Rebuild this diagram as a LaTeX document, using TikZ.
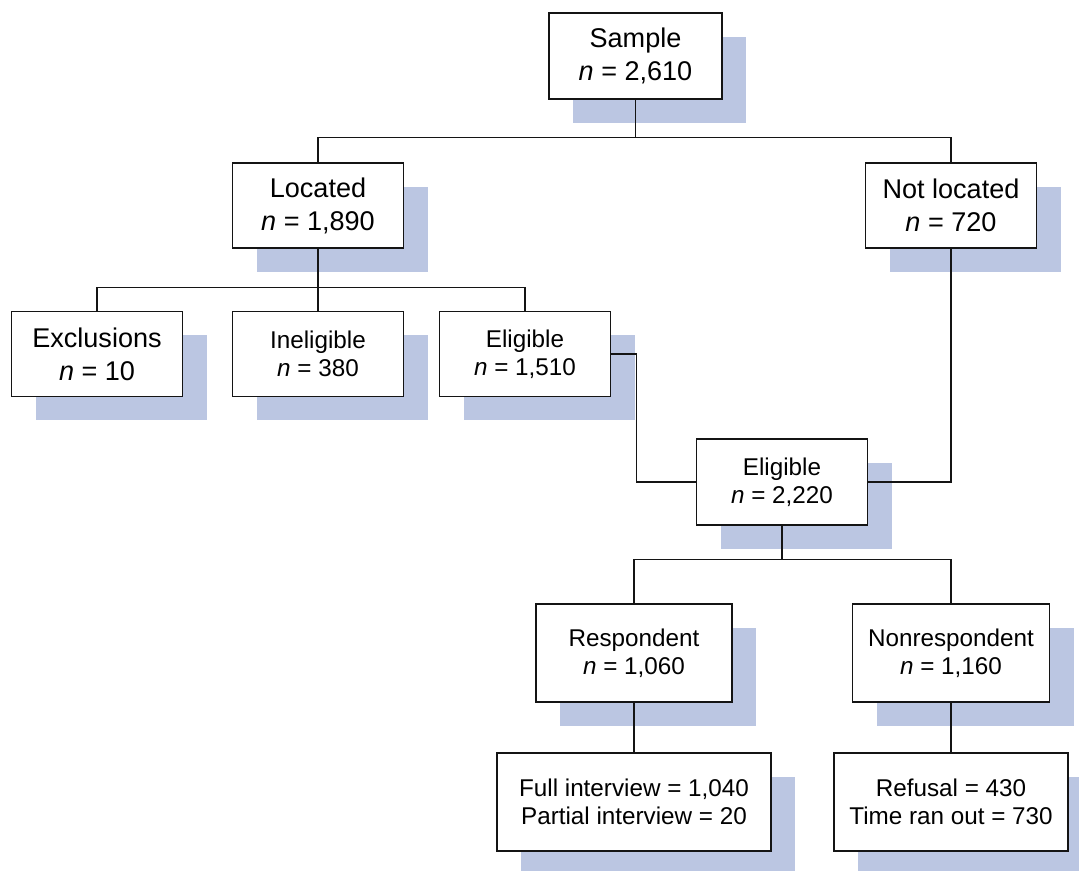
\documentclass[tikz,border=0pt]{standalone}
\usepackage{fontspec}
\setmainfont{Liberation Sans}
\usepackage{tikz}
\usetikzlibrary{shadows}
\definecolor{shadowblue}{RGB}{187, 198, 226}
\definecolor{linedark}{RGB}{20, 20, 20}
\tikzstyle{box}=[draw=linedark, fill=white, line width=0.9pt, align=center, inner sep=0pt,
    general shadow={fill=shadowblue, shadow xshift=0.48cm, shadow yshift=-0.48cm}]
\tikzstyle{bigbox}=[box, minimum width=3.42cm, minimum height=1.70cm, font=\fontsize{15.4}{18.8}\selectfont]
\tikzstyle{smallbox}=[box, minimum width=3.42cm, minimum height=1.70cm, font=\fontsize{13.8}{15.9}\selectfont]
\tikzstyle{widebox}=[smallbox, minimum height=1.96cm]
\tikzstyle{link}=[line width=0.75pt, color=linedark]

\begin{document}
\begin{tikzpicture}
    \useasboundingbox (0,0) rectangle (21.58,17.42);

    % Sample and location
    \node[bigbox, minimum width=3.46cm, minimum height=1.72cm] (sample) at (12.71, 16.30) {Sample\\\textit{n} = 2,610};
    \node[bigbox] (located) at (6.36, 13.31) {Located\\\textit{n} = 1,890};
    \node[bigbox] (notloc) at (19.02, 13.31) {Not located\\\textit{n} = 720};

    % Located split
    \node[bigbox] (excl) at (1.94, 10.34) {Exclusions\\\textit{n} = 10};
    \node[smallbox] (inelig) at (6.36, 10.34) {Ineligible\\\textit{n} = 380};
    \node[smallbox] (elig) at (10.50, 10.34) {Eligible\\\textit{n} = 1,510};

    % All eligible
    \node[smallbox, minimum height=1.72cm] (alleli) at (15.64, 7.78) {Eligible\\\textit{n} = 2,220};

    % Response
    \node[widebox, minimum width=3.92cm] (resp) at (12.68, 4.36) {Respondent\\\textit{n} = 1,060};
    \node[widebox, minimum width=3.94cm] (nonresp) at (19.02, 4.36) {Nonrespondent\\\textit{n} = 1,160};
    \node[widebox, minimum width=5.48cm] (full) at (12.68, 1.38) {Full interview = 1,040\\Partial interview = 20};
    \node[widebox, minimum width=4.68cm] (refusal) at (19.02, 1.38) {Refusal = 430\\Time ran out = 730};

    % Connectors
    \draw[link] (sample.south) -- ++(0,-0.76) coordinate (bartop);
    \draw[link] (located.north) |- (bartop) -| (notloc.north);

    \draw[link] (located.south) -- (inelig.north);
    \coordinate (barmid) at ([yshift=-0.78cm]located.south);
    \draw[link] (excl.north) |- (barmid) -| (elig.north);

    \draw[link] (elig.east) -- ++(0.51,0) |- (alleli.west);
    \draw[link] (notloc.south) |- (alleli.east);

    \draw[link] (alleli.south) -- ++(0,-0.68) coordinate (barlow);
    \draw[link] (resp.north) |- (barlow) -| (nonresp.north);

    \draw[link] (resp.south) -- (full.north);
    \draw[link] (nonresp.south) -- (refusal.north);

\end{tikzpicture}
\end{document}
